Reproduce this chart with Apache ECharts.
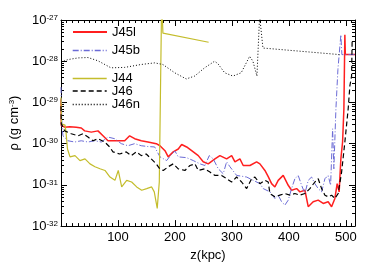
<!DOCTYPE html>
<html><head><meta charset="utf-8">
<script src="https://cdn.jsdelivr.net/npm/echarts@6/dist/echarts.min.js"></script>
<style>html,body{margin:0;padding:0;background:#fff}#c{width:374px;height:267px}</style>
</head><body><div id="c"></div>
<script>
// z (kpc) vs log10(rho / g cm^-3)
const seriesNames = ['J45l', 'J45b', 'J44', 'J46', 'J46n'];
const j45l = [[0,-28.92],[0.5,-29.56],[6.5,-29.60],[15.3,-29.59],[26.8,-29.60],[35.6,-29.62],[41.6,-29.69],[53.2,-29.72],[64.9,-29.69],[73.7,-29.81],[82.5,-29.93],[97.0,-29.93],[111.8,-29.93],[120.5,-29.81],[129.3,-29.88],[140.9,-29.93],[152.6,-29.96],[167.2,-30.00],[173.7,-30.05],[182.5,-30.17],[188.2,-30.32],[197.0,-30.20],[205.8,-30.13],[211.8,-30.02],[220.5,-30.08],[229.3,-30.17],[240.9,-30.29],[249.6,-30.44],[258.4,-30.49],[270.2,-30.37],[278.9,-30.29],[290.7,-30.37],[299.5,-30.29],[305.3,-30.44],[314.0,-30.37],[319.8,-30.53],[331.6,-30.53],[343.3,-30.44],[349.1,-30.49],[357.9,-30.65],[363.7,-30.80],[369.6,-30.97],[375.4,-31.05],[381.2,-30.89],[390.0,-30.77],[398.8,-31.01],[404.7,-31.13],[413.5,-31.09],[419.3,-31.17],[428.1,-31.13],[433.9,-31.53],[442.6,-31.41],[451.4,-31.37],[460.2,-31.45],[468.9,-31.41],[474.9,-31.53],[480.7,-31.33],[484.7,-30.97],[488.2,-31.17],[491.2,-30.37],[494.2,-29.96],[496.5,-29.16],[498.2,-27.36],[499.0,-27.84],[516,-27.84]];
const j45b = [[0,-28.63],[1.8,-29.60],[3.5,-29.81],[12.3,-29.93],[24.0,-29.96],[35.6,-29.93],[47.4,-29.96],[59.1,-29.93],[70.7,-29.96],[82.5,-29.84],[94.2,-29.88],[105.8,-30.00],[117.5,-30.05],[129.3,-30.00],[140.9,-30.05],[152.6,-30.07],[164.4,-30.08],[173.7,-30.32],[185.4,-30.41],[194.2,-30.25],[200.0,-30.18],[205.8,-30.32],[220.5,-30.34],[232.1,-30.41],[243.9,-30.49],[252.6,-30.53],[260.2,-30.29],[267.2,-30.37],[276.0,-30.61],[284.7,-30.73],[290.7,-30.44],[296.5,-30.56],[308.2,-30.77],[325.8,-30.81],[337.4,-30.89],[349.1,-30.97],[354.9,-31.09],[366.7,-31.17],[375.4,-31.33],[381.2,-31.25],[387.2,-31.41],[393.0,-31.49],[398.8,-31.37],[404.7,-31.09],[410.5,-30.85],[416.3,-30.77],[422.3,-31.01],[428.1,-31.21],[433.9,-30.89],[439.8,-30.81],[445.6,-30.97],[451.4,-31.09],[457.4,-31.17],[463.2,-30.85],[468.9,-30.77],[473.2,-31.01],[476.7,-29.64],[478.9,-30.61],[482.5,-29.16],[486.0,-28.20],[491.2,-27.36],[493.0,-27.84],[516,-27.84]];
const j44 = [[0,-28.88],[0.9,-29.52],[7.0,-29.55],[8.8,-29.72],[11.4,-30.13],[15.8,-30.32],[24.6,-30.29],[33.3,-30.41],[42.1,-30.37],[50.9,-30.49],[59.6,-30.56],[68.4,-30.61],[77.2,-30.65],[86.0,-30.81],[94.7,-30.89],[100.5,-30.65],[106.5,-31.05],[115.3,-30.89],[124.0,-30.93],[132.8,-31.05],[141.6,-31.13],[150.4,-31.09],[159.1,-31.05],[163.7,-31.17],[168.9,-31.57],[172.5,-30.93],[176.7,-26.5],[178.9,-27.32],[259.1,-27.54]];
const j46 = [[0,-29.09],[0.5,-29.52],[6.5,-29.69],[18.1,-29.76],[29.8,-29.81],[38.6,-29.76],[47.4,-29.84],[56.1,-29.93],[64.9,-29.88],[76.7,-29.96],[85.4,-30.08],[91.2,-30.20],[103.0,-30.25],[114.6,-30.20],[123.3,-30.29],[132.1,-30.20],[140.9,-30.29],[149.6,-30.25],[158.4,-30.37],[167.2,-30.49],[173.2,-30.61],[179.5,-30.65],[188.2,-30.56],[197.0,-30.49],[205.8,-30.61],[217.5,-30.65],[226.3,-30.53],[235.1,-30.49],[240.9,-30.65],[252.6,-30.61],[261.4,-30.69],[270.2,-30.77],[281.9,-30.77],[290.7,-30.85],[299.5,-30.93],[308.2,-30.81],[317.0,-30.93],[325.8,-31.09],[334.6,-30.85],[340.4,-30.81],[349.1,-30.97],[357.9,-30.89],[363.7,-30.93],[366.7,-31.21],[375.4,-31.29],[384.2,-31.25],[393.0,-31.21],[401.8,-31.25],[410.5,-31.21],[419.3,-31.25],[428.1,-31.21],[436.8,-31.09],[445.6,-30.93],[451.4,-30.85],[457.4,-31.09],[463.2,-31.25],[468.9,-31.29],[474.9,-31.25],[480.7,-31.33],[486.5,-31.21],[492.5,-30.69],[498.2,-29.96],[504.0,-29.16],[507.0,-28.60],[510.0,-28.36],[511.0,-27.48]];
const j46n = [[0,-28.02],[12.3,-27.96],[29.8,-27.92],[47.4,-27.91],[64.9,-27.99],[87.7,-28.16],[111.8,-28.15],[140.4,-28.08],[164.4,-28.04],[178.9,-28.08],[199.5,-28.28],[219.8,-28.43],[234.6,-28.36],[252.1,-28.16],[269.6,-28.00],[275.4,-28.06],[287.2,-28.28],[301.8,-28.36],[316.3,-28.28],[331.1,-27.88],[336.8,-28.00],[343.9,-28.36],[347.4,-28.40],[348.6,-26.9],[354.4,-27.68],[489.5,-27.84]];

const xTickLabels = [100, 200, 300, 400, 500];
const yTickExponents = [-32, -31, -30, -29, -28, -27];

const FONT = 'Liberation Sans';
const xMajor = [0].concat(xTickLabels);
const xMinor = [];
for (let v = 10; v < 516; v += 10) xMinor.push(v);
const yMinor = [];
for (let n = -32; n < -27; n++) for (let k = 2; k <= 9; k++) yMinor.push(n + Math.log10(k));

function xAx(pos, main) {
  return {
    type: 'value', position: pos, min: 0, max: 516, gridIndex: 0,
    axisLine: { show: main, onZero: false, lineStyle: { color: '#000', width: 1 } },
    splitLine: { show: false },
    axisTick: { show: true, inside: true, length: main ? 6 : 3, customValues: main ? xMajor : xMinor, lineStyle: { color: '#000', width: 1 } },
    axisLabel: { show: main && pos === 'bottom', customValues: xTickLabels, color: '#000', fontSize: 13, fontFamily: FONT, margin: 5 },
    name: main && pos === 'bottom' ? 'z(kpc)' : '',
    nameLocation: 'middle', nameGap: 17,
    nameTextStyle: { color: '#000', fontSize: 13, fontFamily: FONT }
  };
}
function yAx(pos, main) {
  return {
    type: 'value', position: pos, min: -32, max: -27, gridIndex: 0,
    axisLine: { show: main, onZero: false, lineStyle: { color: '#000', width: 1 } },
    splitLine: { show: false },
    axisTick: { show: true, inside: true, length: main ? 6 : 3, customValues: main ? yTickExponents : yMinor, lineStyle: { color: '#000', width: 1 } },
    axisLabel: {
      show: main && pos === 'left', customValues: yTickExponents, margin: 3,
      formatter: v => '{b|10}{s|' + Math.round(v) + '}',
      rich: {
        b: { fontSize: 13, fontFamily: FONT, color: '#000', verticalAlign: 'bottom' },
        s: { fontSize: 8, fontFamily: FONT, color: '#000', verticalAlign: 'top' }
      }
    },
    name: main && pos === 'left' ? '{a|ρ (g cm}{s|-3}{a|)}' : '',
    nameLocation: 'middle', nameGap: 29, nameRotate: 90,
    nameTextStyle: {
      rich: {
        a: { fontSize: 13, fontFamily: FONT, color: '#000', verticalAlign: 'bottom' },
        s: { fontSize: 8, fontFamily: FONT, color: '#000', verticalAlign: 'top' }
      }
    }
  };
}

const styles = {
  J45l: { color: '#ff1f1f', width: 1.5, type: 'solid' },
  J45b: { color: '#6b6bd6', width: 1, type: [6, 2, 1, 2] },
  J44:  { color: '#c4bd2c', width: 1.2, type: 'solid' },
  J46:  { color: '#000000', width: 1.2, type: [5, 3] },
  J46n: { color: '#000000', width: 1, type: [1, 2] }
};
const dataByName = { J45l: j45l, J45b: j45b, J44: j44, J46: j46, J46n: j46n };
const legendTops = [25.5, 44, 72, 84.5, 98];

const chart = echarts.init(document.getElementById('c'), null, { renderer: 'canvas' });
chart.setOption({
  animation: false,
  backgroundColor: '#fff',
  grid: { left: 61, right: 19, top: 20, bottom: 39, containLabel: false },
  xAxis: [xAx('bottom', true), xAx('bottom', false), xAx('top', true), xAx('top', false)],
  yAxis: [yAx('left', true), yAx('left', false), yAx('right', true), yAx('right', false)],
  legend: seriesNames.map((n, i) => ({
    data: [n], left: 72, top: legendTops[i], orient: 'vertical', padding: 0,
    itemWidth: 34, itemHeight: 12, selectedMode: false,
    itemStyle: { opacity: 0 },
    lineStyle: { width: n === 'J45l' ? 2 : 1.4 },
    textStyle: { fontSize: 13, fontFamily: FONT, color: '#000' }
  })),
  series: seriesNames.map(n => ({
    name: n, type: 'line', xAxisIndex: 0, yAxisIndex: 0,
    data: dataByName[n], showSymbol: false, symbol: 'none', clip: true,
    lineStyle: styles[n], itemStyle: { color: styles[n].color }
  }))
});
</script></body></html>
